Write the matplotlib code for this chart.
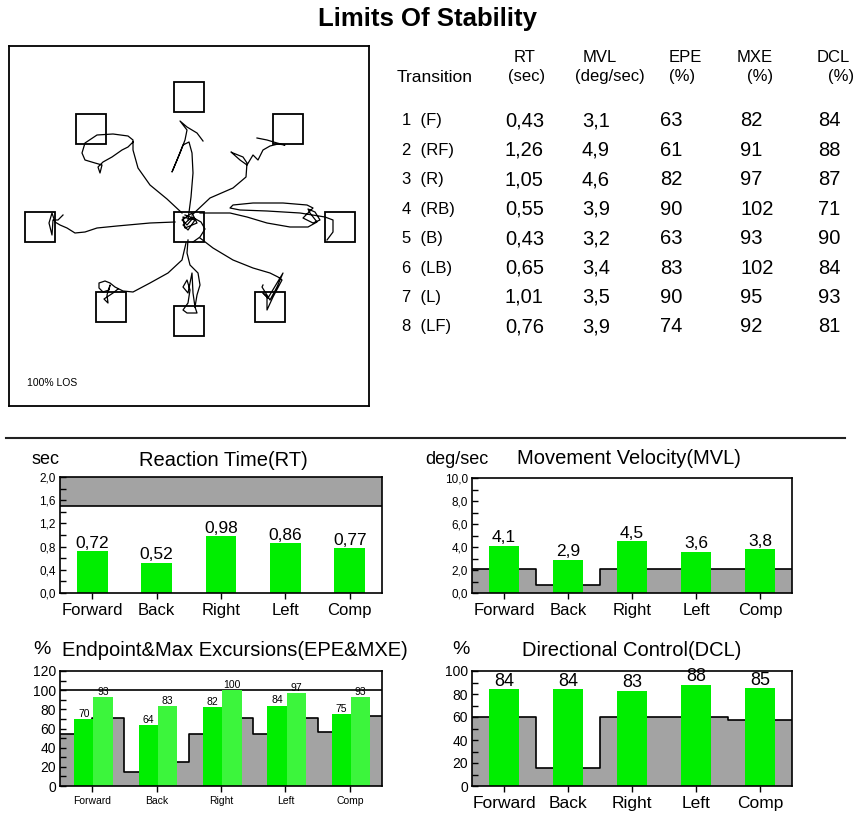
"""
Limits Of Stability report page: trace box, results table and four bar panels
"""

import matplotlib.pyplot as plt
import numpy as np
from matplotlib.patches import Rectangle
from matplotlib.ticker import MultipleLocator

plt.rcParams["font.family"] = ["Liberation Sans", "DejaVu Sans"]

W, H = 856, 814

# ---- trace box (box pixel units, y pointing down) ----
target_x = [180, 279, 331, 261, 180, 102, 31, 82, 180]
target_y = [51, 83, 181, 261, 275, 261, 181, 83, 181]
target_size = 30

trace_f = [(179, 174), (182, 151), (184, 127), (183, 107), (180, 96), (174, 99),
           (168, 114), (163, 126), (171, 107), (176, 94), (178, 84), (171, 75),
           (178, 81), (188, 87), (194, 95)]
trace_rf = [(183, 169), (201, 152), (224, 142), (237, 131), (238, 117), (234, 111),
            (224, 107), (222, 106), (231, 114), (238, 119), (244, 109), (249, 114),
            (254, 104), (261, 100), (269, 98), (276, 99), (268, 97), (258, 94),
            (248, 92)]
trace_r = [(191, 167), (208, 167), (221, 167), (238, 171), (258, 177), (281, 181),
           (299, 181), (308, 176), (301, 167), (299, 163), (306, 166), (311, 174),
           (304, 177), (294, 172), (304, 162), (298, 159), (274, 157), (244, 157),
           (224, 159), (221, 162), (231, 164), (258, 165), (291, 167), (316, 171),
           (324, 174), (324, 186), (318, 194)]
trace_rb = [(191, 192), (204, 202), (224, 214), (244, 222), (261, 227), (269, 231),
            (273, 234), (264, 251), (258, 264), (258, 251), (254, 247), (259, 252),
            (274, 227), (268, 241), (261, 254), (253, 241), (254, 239)]
trace_b = [(179, 194), (178, 207), (181, 219), (189, 227), (191, 239), (188, 249),
           (186, 261), (188, 267), (178, 267), (174, 264), (179, 257), (181, 244),
           (178, 234), (174, 241), (179, 247), (183, 227), (184, 247), (186, 261)]
trace_lb = [(177, 197), (173, 214), (159, 227), (141, 237), (124, 246), (114, 245),
            (106, 241), (101, 237), (96, 235), (90, 237), (90, 242), (94, 246),
            (100, 244), (101, 239), (98, 249), (99, 257), (95, 253), (104, 247),
            (109, 243)]
trace_l = [(166, 176), (141, 177), (108, 180), (88, 182), (76, 186), (66, 187),
           (58, 182), (51, 179), (46, 176), (43, 167), (40, 177), (43, 189),
           (44, 174), (49, 174), (54, 169)]
trace_lf = [(173, 167), (158, 153), (141, 139), (129, 122), (124, 104), (124, 94),
            (119, 90), (104, 88), (88, 89), (76, 97), (73, 107), (76, 114),
            (86, 117), (93, 119), (91, 127), (89, 121), (94, 116), (103, 111),
            (113, 104), (119, 101), (124, 96)]
trace_center = [(176, 169), (184, 172), (178, 179), (173, 174), (183, 167), (188, 177),
                (176, 182), (174, 171), (186, 174), (179, 184), (174, 179), (183, 171),
                (192, 176), (196, 183), (191, 191), (184, 196)]

# ---- results table ----
transitions = ["1  (F)", "2  (RF)", "3  (R)", "4  (RB)", "5  (B)", "6  (LB)", "7  (L)", "8  (LF)"]
tab_rt = [0.43, 1.26, 1.05, 0.55, 0.43, 0.65, 1.01, 0.76]
tab_mvl = [3.1, 4.9, 4.6, 3.9, 3.2, 3.4, 3.5, 3.9]
tab_epe = [63, 61, 82, 90, 63, 83, 90, 74]
tab_mxe = [82, 91, 97, 102, 93, 102, 95, 92]
tab_dcl = [84, 88, 87, 71, 90, 84, 93, 81]

# ---- bar panels ----
directions = ["Forward", "Back", "Right", "Left", "Comp"]
rt_vals = [0.72, 0.52, 0.98, 0.86, 0.77]
rt_limit = 1.5
mvl_vals = [4.1, 2.9, 4.5, 3.6, 3.8]
mvl_norm = [2.1, 0.7, 2.1, 2.1, 2.1]
epe_vals = [70, 64, 82, 84, 75]
mxe_vals = [93, 83, 100, 97, 93]
epe_norm = [54, 15, 54, 54, 56]
mxe_norm = [71, 25, 71, 71, 73]
dcl_vals = [84, 84, 83, 88, 85]
dcl_norm = [60, 16, 60, 60, 57]

GREEN = "#00ee00"
GREEN_LIGHT = "#3cf53c"
GRAY = "#a3a3a3"


def comma(v, nd):
    return f"{v:.{nd}f}".replace(".", ",")


def px_axes(fig, left, top, right, bottom):
    return fig.add_axes([left / W, 1 - bottom / H, (right - left) / W, (bottom - top) / H])


def px_text(fig, x, y, s, **kw):
    fig.text(x / W, 1 - y / H, s, **kw)


def style_panel(ax, ymax, major, minor, nd, ysize, xsize):
    ax.set_xlim(0, 5)
    ax.set_ylim(0, ymax)
    ax.yaxis.set_major_locator(MultipleLocator(major))
    ax.yaxis.set_minor_locator(MultipleLocator(minor))
    ax.yaxis.set_major_formatter(lambda v, pos: comma(v, nd))
    ax.set_xticks(np.arange(5) + 0.5)
    ax.set_xticklabels(directions, fontsize=xsize)
    ax.tick_params(axis="y", which="both", direction="in", length=4, width=1,
                   labelsize=ysize, pad=3)
    ax.tick_params(axis="x", direction="out", length=4, width=1, pad=3)
    for s in ax.spines.values():
        s.set_linewidth(1.2)


def step_norm(ax, edges, levels):
    lv = np.append(levels, levels[-1])
    ax.fill_between(edges, lv, step="post", color=GRAY, lw=0, zorder=1)
    ax.step(edges, lv, where="post", color="black", lw=1.2, zorder=1.5)


def bar_labels(ax, xs, vals, nd, size, off):
    for x, v in zip(xs, vals):
        ax.annotate(comma(v, nd), (x, v), xytext=(0, off), textcoords="offset points",
                    ha="center", va="baseline", fontsize=size, annotation_clip=False)


fig = plt.figure(figsize=(W / 100, H / 100), dpi=100)

px_text(fig, 428, 19, "Limits Of Stability", ha="center", va="center",
        fontsize=18.5, fontweight="bold")

# trace box
ax = px_axes(fig, 9, 46, 369, 406)
ax.set_xlim(0, 360)
ax.set_ylim(360, 0)
ax.set_xticks([])
ax.set_yticks([])
for s in ax.spines.values():
    s.set_linewidth(1.3)
for tx, ty in zip(target_x, target_y):
    ax.add_patch(Rectangle((tx - target_size / 2, ty - target_size / 2), target_size,
                           target_size, fill=False, ec="black", lw=1.3))
for tr in [trace_f, trace_rf, trace_r, trace_rb, trace_b, trace_lb, trace_l, trace_lf,
           trace_center]:
    pts = np.array(tr)
    ax.plot(pts[:, 0], pts[:, 1], color="black", lw=0.9)
ax.text(18, 337, "100% LOS", fontsize=7.5, va="center", ha="left")

# table
for x, s in [(525, "RT"), (600, "MVL"), (685, "EPE"), (755, "MXE"), (833, "DCL")]:
    px_text(fig, x, 57, s, ha="center", va="center", fontsize=12)
for x, s in [(527, "(sec)"), (610, "(deg/sec)"), (682, "(%)"), (760, "(%)"), (841, "(%)")]:
    px_text(fig, x, 77, s, ha="center", va="center", fontsize=12)
px_text(fig, 397, 77, "Transition", ha="left", va="center", fontsize=12.5)

for i, name in enumerate(transitions):
    y = 121 + i * 29.4
    px_text(fig, 402, y, name, ha="left", va="center", fontsize=12)
    px_text(fig, 505, y, comma(tab_rt[i], 2), ha="left", va="center", fontsize=14.5)
    px_text(fig, 582, y, comma(tab_mvl[i], 1), ha="left", va="center", fontsize=14.5)
    px_text(fig, 660, y, str(tab_epe[i]), ha="left", va="center", fontsize=14.5)
    px_text(fig, 740, y, str(tab_mxe[i]), ha="left", va="center", fontsize=14.5)
    px_text(fig, 818, y, str(tab_dcl[i]), ha="left", va="center", fontsize=14.5)

# separator
fig.add_artist(plt.Line2D([6 / W, 845 / W], [1 - 438 / H, 1 - 438 / H], color="#222222",
                          lw=1.5))

centers = np.arange(5) + 0.5
edges5 = np.arange(6)

# Reaction time
ax = px_axes(fig, 60, 477, 382, 593)
ax.axhspan(rt_limit, 2.0, color=GRAY, lw=0, zorder=1)
ax.axhline(rt_limit, color="black", lw=1.2, zorder=1.5)
ax.bar(centers, rt_vals, width=0.48, color=GREEN, zorder=2)
bar_labels(ax, centers, rt_vals, 2, 12.5, 2.5)
style_panel(ax, 2.0, 0.4, 0.2, 1, 8.5, 12)
px_text(fig, 32, 460, "sec", ha="left", va="center", fontsize=13)
px_text(fig, 223, 460, "Reaction Time(RT)", ha="center", va="center", fontsize=14.5)

# Movement velocity
ax = px_axes(fig, 472, 478, 792, 593)
step_norm(ax, edges5, mvl_norm)
ax.bar(centers, mvl_vals, width=0.48, color=GREEN, zorder=2)
bar_labels(ax, centers, mvl_vals, 1, 12.5, 2.5)
style_panel(ax, 10.0, 2.0, 1.0, 1, 8.5, 12)
px_text(fig, 425, 459, "deg/sec", ha="left", va="center", fontsize=13)
px_text(fig, 629, 459, "Movement Velocity(MVL)", ha="center", va="center", fontsize=14.5)

# Endpoint & max excursions
ax = px_axes(fig, 60, 671, 382, 786)
norm_pairs = [v for pair in zip(epe_norm, mxe_norm) for v in pair]
step_norm(ax, np.arange(11) * 0.5, norm_pairs)
ax.axhline(100, color="black", lw=1.2, zorder=1.5)
ax.bar(centers - 0.15 + 0.02, epe_vals, width=0.3, color=GREEN, zorder=2)
ax.bar(centers + 0.15 + 0.02, mxe_vals, width=0.3, color=GREEN_LIGHT, zorder=2)
bar_labels(ax, centers - 0.13, epe_vals, 0, 7.5, 1.5)
bar_labels(ax, centers + 0.17, mxe_vals, 0, 7.5, 1.5)
style_panel(ax, 120, 20, 10, 0, 10, 7.5)
px_text(fig, 33, 650, "%", ha="left", va="center", fontsize=14)
px_text(fig, 62, 650, "Endpoint&Max Excursions(EPE&MXE)", ha="left", va="center",
        fontsize=14.5)

# Directional control
ax = px_axes(fig, 472, 671, 792, 786)
step_norm(ax, edges5, dcl_norm)
ax.bar(centers, dcl_vals, width=0.48, color=GREEN, zorder=2)
bar_labels(ax, centers, dcl_vals, 0, 13, 2.5)
style_panel(ax, 100, 20, 10, 0, 10, 12.5)
px_text(fig, 452, 650, "%", ha="left", va="center", fontsize=14)
px_text(fig, 632, 650, "Directional Control(DCL)", ha="center", va="center", fontsize=14.5)

fig.savefig("out.png", dpi=100)
